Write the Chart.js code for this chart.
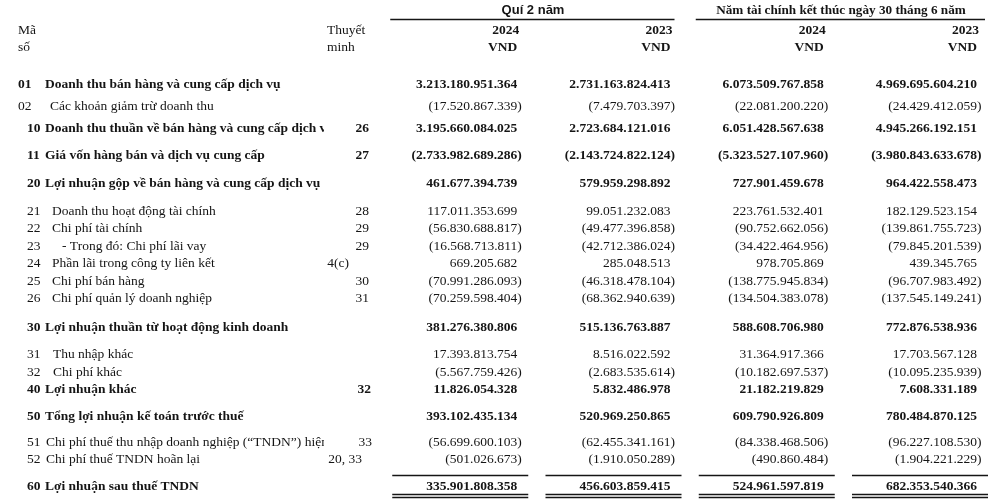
<!DOCTYPE html>
<html>
<head>
<meta charset="utf-8">
<script src="https://cdn.jsdelivr.net/npm/chart.js@4.4.0/dist/chart.umd.min.js"></script>
<style>
html, body { margin: 0; padding: 0; background: #fff; }
canvas { display: block; }
</style>
</head>
<body>
<canvas id="report" width="1000" height="501"></canvas>
<script>
// row data
const codes = ['01','02','10','11','20','21','22','23','24','25','26','30','31','32','40','50','51','52','60'];
const items = [
  'Doanh thu bán hàng và cung cấp dịch vụ',
  'Các khoản giảm trừ doanh thu',
  'Doanh thu thuần về bán hàng và cung cấp dịch vụ',
  'Giá vốn hàng bán và dịch vụ cung cấp',
  'Lợi nhuận gộp về bán hàng và cung cấp dịch vụ',
  'Doanh thu hoạt động tài chính',
  'Chi phí tài chính',
  '- Trong đó: Chi phí lãi vay',
  'Phần lãi trong công ty liên kết',
  'Chi phí bán hàng',
  'Chi phí quản lý doanh nghiệp',
  'Lợi nhuận thuần từ hoạt động kinh doanh',
  'Thu nhập khác',
  'Chi phí khác',
  'Lợi nhuận khác',
  'Tổng lợi nhuận kế toán trước thuế',
  'Chi phí thuế thu nhập doanh nghiệp (“TNDN”) hiện',
  'Chi phí thuế TNDN hoãn lại',
  'Lợi nhuận sau thuế TNDN'
];
const notes = ['', '', '26', '27', '', '28', '29', '29', '4(c)', '30', '31', '', '', '', '32', '', '33', '20, 33', ''];
const boldRows = ['01','10','11','20','30','40','50','60'];

const q2_2024 = [3213180951364, -17520867339, 3195660084025, -2733982689286, 461677394739, 117011353699, -56830688817, -16568713811, 669205682, -70991286093, -70259598404, 381276380806, 17393813754, -5567759426, 11826054328, 393102435134, -56699600103, -501026673, 335901808358];
const q2_2023 = [2731163824413, -7479703397, 2723684121016, -2143724822124, 579959298892, 99051232083, -49477396858, -42712386024, 285048513, -46318478104, -68362940639, 515136763887, 8516022592, -2683535614, 5832486978, 520969250865, -62455341161, -1910050289, 456603859415];
const fy_2024 = [6073509767858, -22081200220, 6051428567638, -5323527107960, 727901459678, 223761532401, -90752662056, -34422464956, 978705869, -138775945834, -134504383078, 588608706980, 31364917366, -10182697537, 21182219829, 609790926809, -84338468506, -490860484, 524961597819];
const fy_2023 = [4969695604210, -24429412059, 4945266192151, -3980843633678, 964422558473, 182129523154, -139861755723, -79845201539, 439345765, -96707983492, -137545149241, 772876538936, 17703567128, -10095235939, 7608331189, 780484870125, -96227108530, -1904221229, 682353540366];

const periods = ['Quí 2 năm', 'Năm tài chính kết thúc ngày 30 tháng 6 năm'];
const years = ['2024', '2023', '2024', '2023'];
const currency = 'VND';

// layout: vertical gap before each row (in row units) and text indents
const rowGap = [0, 1.25, 1.3, 1.5, 1.6, 1.6, 1, 1, 1, 1, 1, 1.65, 1.55, 1, 1, 1.5, 1.5, 1, 1.5];
const codeX = [18, 18, 27, 27, 27, 27, 27, 27, 27, 27, 27, 27, 27, 27, 27, 27, 27, 27, 27];
const itemX = [45, 50, 45, 45, 45, 52, 52, 62, 52, 52, 52, 45, 53, 53, 45, 45, 46, 46, 45];
const noteX = [369, 369, 369, 369, 369, 369, 369, 369, 349, 369, 369, 369, 369, 369, 371, 369, 372, 362, 369];

let rowPos = [];
let acc = 0;
rowGap.forEach(g => { acc += g; rowPos.push(acc); });

const columns = [q2_2024, q2_2023, fy_2024, fy_2023];
const serif = '"Liberation Serif", "Times New Roman", serif';
const ink = '#151515';

function fmt(v) {
  return String(Math.abs(v)).replace(/\B(?=(\d{3})+(?!\d))/g, '.');
}
function font(bold, size) {
  return (bold ? 'bold ' : '') + size + 'px ' + serif;
}

const tablePlugin = {
  id: 'tableText',
  afterDatasetsDraw(chart) {
    const ctx = chart.ctx;
    const x = chart.scales.x;
    const y = chart.scales.y;
    const colW = x.getPixelForValue(1) - x.getPixelForValue(0);
    const edge = px => px + colW / 2 - 5;
    ctx.save();
    ctx.fillStyle = ink;
    ctx.strokeStyle = ink;
    ctx.textBaseline = 'middle';

    // header
    ctx.font = 'bold 13px "Liberation Sans", Arial, sans-serif';
    ctx.textAlign = 'center';
    ctx.fillText(periods[0], 533, y.getPixelForValue(-4.22));
    ctx.font = font(true, 13.2);
    ctx.fillText(periods[1], 841, y.getPixelForValue(-4.22));
    ctx.lineWidth = 1.5;
    let ly = Math.round(y.getPixelForValue(-3.72)) + 0.5;
    ctx.beginPath();
    ctx.moveTo(edge(x.getPixelForValue(0)) - 127, ly);
    ctx.lineTo(edge(x.getPixelForValue(1)) + 4, ly);
    ctx.moveTo(edge(x.getPixelForValue(2)) - 128, ly);
    ctx.lineTo(edge(x.getPixelForValue(3)) + 8, ly);
    ctx.stroke();

    ctx.font = font(false, 13.5);
    ctx.textAlign = 'left';
    ctx.fillText('Mã', 18, y.getPixelForValue(-3.08));
    ctx.fillText('số', 18, y.getPixelForValue(-2.11));
    ctx.fillText('Thuyết', 327, y.getPixelForValue(-3.08));
    ctx.fillText('minh', 327, y.getPixelForValue(-2.11));
    ctx.font = font(true, 13.5);
    ctx.textAlign = 'right';
    years.forEach((yr, c) => {
      const ex = edge(x.getPixelForValue(c));
      ctx.fillText(yr, ex + 2, y.getPixelForValue(-3.08));
      ctx.fillText(currency, ex, y.getPixelForValue(-2.11));
    });

    // row labels
    codes.forEach((code, i) => {
      const py = y.getPixelForValue(rowPos[i]);
      const bold = boldRows.includes(code);
      ctx.font = font(bold, 13.5);
      ctx.textAlign = 'left';
      ctx.fillText(code, codeX[i], py);
      ctx.save();
      ctx.beginPath();
      ctx.rect(0, py - 12, 324, 24);
      ctx.clip();
      ctx.fillText(items[i], itemX[i], py);
      ctx.restore();
      ctx.textAlign = 'right';
      ctx.fillText(notes[i], noteX[i], py);
    });

    // value cells from dataset points
    chart.data.datasets.forEach((ds, c) => {
      const meta = chart.getDatasetMeta(c);
      meta.data.forEach((pt, i) => {
        const v = columns[c][i];
        const ex = edge(pt.x);
        ctx.font = font(boldRows.includes(codes[i]), 13.5);
        if (v < 0) {
          ctx.textAlign = 'right';
          ctx.fillText('(' + fmt(v), ex, pt.y);
          ctx.textAlign = 'left';
          ctx.fillText(')', ex, pt.y);
        } else {
          ctx.textAlign = 'right';
          ctx.fillText(fmt(v), ex, pt.y);
        }
      });
      // total lines round the last row
      const last = meta.data[meta.data.length - 1];
      const ex = edge(last.x);
      const lastV = rowPos[rowPos.length - 1];
      ctx.lineWidth = 1.5;
      ctx.beginPath();
      let y1 = Math.round(y.getPixelForValue(lastV - 0.63)) + 0.5;
      let y2 = Math.round(y.getPixelForValue(lastV + 0.45)) + 0.5;
      let y3 = y2 + 3;
      ctx.moveTo(ex - 125, y1); ctx.lineTo(ex + 11, y1);
      ctx.moveTo(ex - 125, y2); ctx.lineTo(ex + 11, y2);
      ctx.moveTo(ex - 125, y3); ctx.lineTo(ex + 11, y3);
      ctx.stroke();
    });
    ctx.restore();
  }
};

const ctx = document.getElementById('report').getContext('2d');
const datasets = columns.map((col, c) => ({
  label: years[c],
  data: col.map((v, i) => ({ x: c, y: rowPos[i] })),
  pointRadius: 0,
  showLine: false
}));

new Chart(ctx, {
  type: 'scatter',
  data: { datasets: datasets },
  options: {
    responsive: false,
    animation: false,
    events: [],
    layout: { padding: { left: 369, right: 18, top: 0, bottom: 0 } },
    plugins: { legend: { display: false }, tooltip: { enabled: false } },
    scales: {
      x: { type: 'linear', min: -0.5, max: 3.5, display: false },
      y: { type: 'linear', reverse: true, min: -4.8, max: 23.8, display: false }
    }
  },
  plugins: [tablePlugin]
});
</script>
</body>
</html>
